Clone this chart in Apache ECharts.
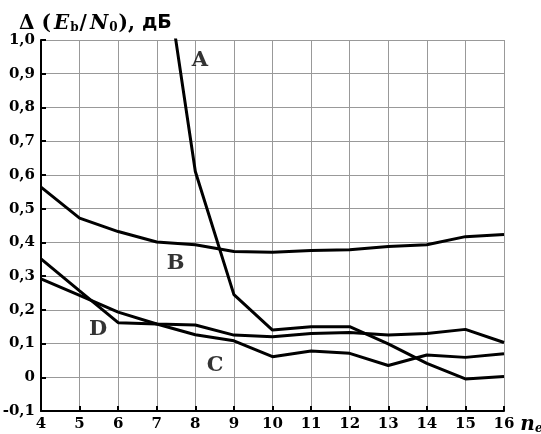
<!DOCTYPE html>
<html>
<head>
<meta charset="utf-8">
<script src="https://cdn.jsdelivr.net/npm/echarts@6/dist/echarts.min.js"></script>
<style>html,body{margin:0;padding:0;background:#fff}#c{width:541px;height:434px}</style>
</head>
<body>
<div id="c"></div>
<script>
var xs = [4, 5, 6, 7, 8, 9, 10, 11, 12, 13, 14, 15, 16];
var yTicks = [-0.1, 0, 0.1, 0.2, 0.3, 0.4, 0.5, 0.6, 0.7, 0.8, 0.9, 1.0];
var seriesA = [null, null, null, 1.38, 0.61, 0.245, 0.14, 0.15, 0.15, 0.099, 0.041, -0.005, 0.002];
var seriesB = [0.564, 0.472, 0.432, 0.401, 0.393, 0.373, 0.371, 0.376, 0.378, 0.388, 0.393, 0.417, 0.423];
var seriesC = [0.292, 0.243, 0.193, 0.158, 0.126, 0.108, 0.061, 0.078, 0.071, 0.035, 0.066, 0.059, 0.070];
var seriesD = [0.351, 0.256, 0.162, 0.158, 0.155, 0.125, 0.120, 0.130, 0.133, 0.125, 0.130, 0.142, 0.103];
var labelNames = ['A', 'B', 'C', 'D'];
var labelX = [8.12, 7.49, 8.51, 5.48];
var labelY = [0.94, 0.336, 0.034, 0.142];

function pairs(vals) {
  return xs.map(function (x, i) { return [x, vals[i]]; });
}
var serif = 'DejaVu Serif';
var lineStyle = { color: '#000', width: 3 };
function lineSeries(name, vals) {
  return {
    name: name, type: 'line', data: pairs(vals), symbol: 'none',
    lineStyle: lineStyle, itemStyle: { color: '#000' }, clip: true,
    connectNulls: false, silent: true, animation: false
  };
}
var chart = echarts.init(document.getElementById('c'), null, { renderer: 'canvas' });
chart.setOption({
  backgroundColor: '#fff',
  animation: false,
  title: {
    text: '{d|Δ (}{i|E}{s|b}{d|/}{i|N}{s|0}{d|), }{r|дБ}',
    left: 14, top: 6,
    textStyle: {
      rich: {
        d: { fontFamily: serif, fontWeight: 'bold', fontSize: 20, color: '#000', lineHeight: 25 },
        i: { fontFamily: serif, fontStyle: 'italic', fontWeight: 'bold', fontSize: 20, color: '#000', lineHeight: 25, padding: [0, 1, 0, 3] },
        s: { fontFamily: serif, fontWeight: 'bold', fontSize: 12, color: '#000', lineHeight: 25, padding: [9, 1, 0, 0] },
        r: { fontFamily: 'DejaVu Sans', fontWeight: 'bold', fontSize: 19, color: '#000', lineHeight: 25 }
      }
    }
  },
  grid: { left: 41, right: 37, top: 40, bottom: 23, containLabel: false, outerBoundsMode: 'none' },
  xAxis: {
    type: 'value', min: xs[0], max: xs[xs.length - 1], interval: 1,
    axisLine: { onZero: false, lineStyle: { color: '#000', width: 2 } },
    axisTick: { show: true, inside: true, length: 5, lineStyle: { color: '#000', width: 2 } },
    splitLine: { show: true, lineStyle: { color: '#999', width: 1 } },
    axisLabel: { color: '#000', fontFamily: serif, fontWeight: 'bold', fontSize: 15, margin: 6 },
    name: '{n|n}{e|e}', nameLocation: 'end', nameGap: 5,
    nameTextStyle: {
      verticalAlign: 'top', padding: [3, 0, 0, 0],
      rich: {
        n: { fontFamily: serif, fontStyle: 'italic', fontWeight: 'bold', fontSize: 20, color: '#000', lineHeight: 22 },
        e: { fontFamily: serif, fontStyle: 'italic', fontWeight: 'bold', fontSize: 12, color: '#000', lineHeight: 22, padding: [8, 0, 0, 0] }
      }
    }
  },
  yAxis: {
    type: 'value', min: yTicks[0], max: yTicks[yTicks.length - 1], interval: 0.1,
    axisLine: { show: true, onZero: false, lineStyle: { color: '#000', width: 2 } },
    axisTick: { show: true, inside: true, length: 5, lineStyle: { color: '#000', width: 2 } },
    splitLine: { show: true, lineStyle: { color: '#999', width: 1 } },
    axisLabel: {
      color: '#000', fontFamily: serif, fontWeight: 'bold', fontSize: 15, margin: 6,
      formatter: function (v) { return Math.abs(v) < 1e-9 ? '0' : v.toFixed(1).replace('.', ','); }
    }
  },
  series: [
    lineSeries('A', seriesA),
    lineSeries('B', seriesB),
    lineSeries('C', seriesC),
    lineSeries('D', seriesD),
    {
      type: 'scatter', silent: true, symbolSize: 2, itemStyle: { color: 'rgba(0,0,0,0)' },
      data: labelNames.map(function (n, i) { return [labelX[i], labelY[i], n]; }),
      label: {
        show: true, position: 'inside', color: '#000', fontFamily: serif, fontWeight: 'bold', fontSize: 21,
        textBorderWidth: 0,
        formatter: function (p) { return p.data[2]; }
      }
    }
  ]
});
</script>
</body>
</html>
